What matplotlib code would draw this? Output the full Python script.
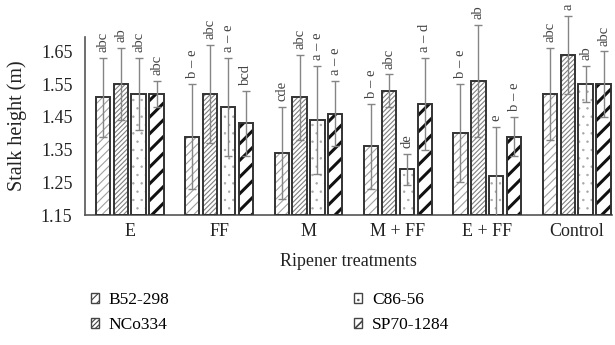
import numpy as np
import matplotlib.pyplot as plt
from matplotlib.patches import Patch

plt.rcParams['font.family'] = ['Liberation Serif', 'DejaVu Serif']

treatments = ['E', 'FF', 'M', 'M + FF', 'E + FF', 'Control']
varieties = ['B52-298', 'NCo334', 'C86-56', 'SP70-1284']

heights = {
    'B52-298':   [1.51, 1.39, 1.34, 1.36, 1.40, 1.52],
    'NCo334':    [1.55, 1.52, 1.51, 1.53, 1.56, 1.64],
    'C86-56':    [1.52, 1.48, 1.44, 1.29, 1.27, 1.55],
    'SP70-1284': [1.52, 1.43, 1.46, 1.49, 1.39, 1.55],
}
errors = {
    'B52-298':   [0.12, 0.16, 0.14, 0.13, 0.15, 0.14],
    'NCo334':    [0.11, 0.15, 0.13, 0.05, 0.17, 0.12],
    'C86-56':    [0.11, 0.15, 0.165, 0.047, 0.15, 0.055],
    'SP70-1284': [0.04, 0.10, 0.10, 0.14, 0.06, 0.10],
}
letters = {
    'B52-298':   ['abc', 'b – e', 'cde', 'b – e', 'b – e', 'abc'],
    'NCo334':    ['ab', 'abc', 'abc', 'abc', 'ab', 'a'],
    'C86-56':    ['abc', 'a – e', 'a – e', 'de', 'e', 'ab'],
    'SP70-1284': ['abc', 'bcd', 'a – e', 'a – d', 'b – e', 'abc'],
}

# hatch pattern, hatch colour, hatch line width
styles = {
    'B52-298':   ('////', '#a0a0a0', 0.8),
    'NCo334':    ('///////', '#808080', 0.8),
    'C86-56':    ('..', '#a8a8a8', 0.5),
    'SP70-1284': ('//', '#111111', 2.2),
}


def hatch_lw(artist, lw):
    if hasattr(artist, 'set_hatch_linewidth'):
        artist.set_hatch_linewidth(lw)
    orig = artist.draw

    def draw(renderer):
        with plt.rc_context({'hatch.linewidth': lw}):
            orig(renderer)
    artist.draw = draw


fig = plt.figure(figsize=(6.15, 3.45), dpi=100)
px_per_unit = 327.0
top_px = 215 - (1.80 - 1.15) * px_per_unit
ax = fig.add_axes([85 / 615, 1 - 215 / 345, (612 - 85) / 615, (215 - top_px) / 345])

x = np.arange(len(treatments))
pitch = 0.2
width = 0.16
base = 1.15
edge = '#333333'

for i, v in enumerate(varieties):
    pos = x + (i - 1.5) * pitch
    h = np.array(heights[v])
    e = np.array(errors[v])
    hatch, hcol, hlw = styles[v]
    bars = ax.bar(pos, h - base, width, bottom=base, color='white', edgecolor=hcol,
                  hatch=hatch, linewidth=0, zorder=2)
    for b in bars:
        hatch_lw(b, hlw)
    ax.bar(pos, h - base, width, bottom=base, fill=False, edgecolor=edge,
           linewidth=1.4, zorder=3)
    ax.errorbar(pos, h, yerr=e, fmt='none', ecolor='#858585', elinewidth=1,
                capsize=3, capthick=1, zorder=4)
    for p, top, lab in zip(pos, h + e, letters[v]):
        ax.text(p, top + 0.018, lab, rotation=90, ha='center', va='bottom',
                fontsize=10.5, color='#444444', clip_on=False)

ax.set_xlim(-0.5, 5.395)
ax.set_ylim(1.15, 1.80)
ax.spines['left'].set_bounds(1.15, 1.694)
ax.set_yticks([1.15, 1.25, 1.35, 1.45, 1.55, 1.65])
ax.set_yticklabels(['1.15', '1.25', '1.35', '1.45', '1.55', '1.65'])
ax.set_xticks(x)
ax.set_xticklabels(treatments)
ax.tick_params(axis='both', length=0, labelsize=13, colors='#222222')
ax.tick_params(axis='y', pad=9)
ax.tick_params(axis='x', pad=6)
for s in ['top', 'right']:
    ax.spines[s].set_visible(False)
for s in ['left', 'bottom']:
    ax.spines[s].set_color('#555555')
    ax.spines[s].set_linewidth(1.2)

ax.set_ylabel('Stalk height (m)', fontsize=14.5, color='#222222')
ax.yaxis.set_label_coords(-0.11, 0.5 * (1.694 - 1.15) / (1.80 - 1.15))
ax.set_xlabel('Ripener treatments', fontsize=13, color='#222222', labelpad=9)

handles = []
for v in varieties:
    hatch, hcol, hlw = styles[v]
    handles.append(Patch(facecolor='white', edgecolor='#444444', hatch=hatch, linewidth=1.0))
leg = fig.legend(handles, varieties, ncol=2, loc='lower left',
                 bbox_to_anchor=(75 / 615, -4 / 345), frameon=False, fontsize=12.5,
                 handlelength=0.5, handleheight=0.5, columnspacing=10.6,
                 labelspacing=0.55, handletextpad=0.55)
for p, v in zip(leg.get_patches(), varieties):
    p.set_snap(True)
    hatch_lw(p, min(styles[v][2], 1.2))

fig.savefig('out.png', dpi=100)
